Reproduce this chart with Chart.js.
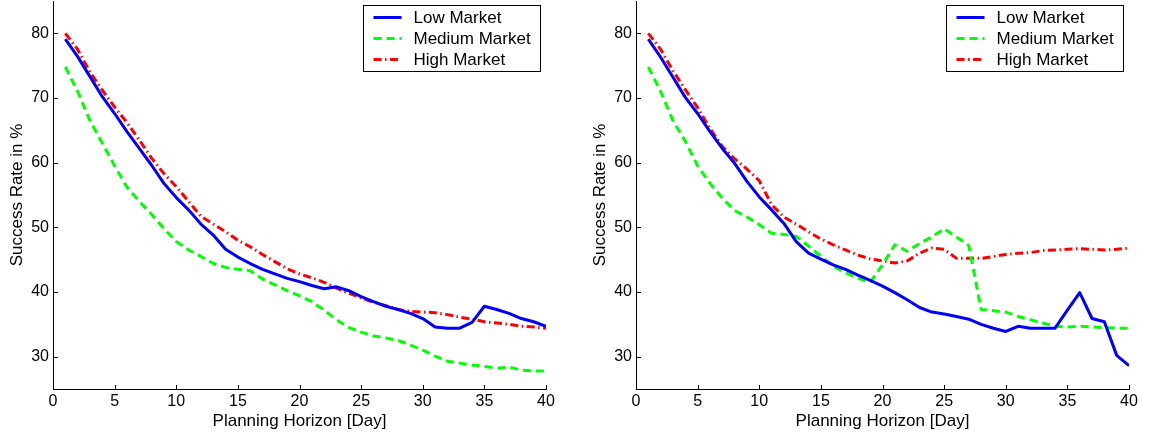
<!DOCTYPE html>
<html>
<head>
    <title>Success Rate vs Planning Horizon</title>
    <script src="https://cdn.jsdelivr.net/npm/chart.js@4.4.5/dist/chart.umd.min.js"></script>
    <style>
        body { margin: 0; background: #fff; }
        #wrap { position: relative; width: 1152px; height: 437px; }
        canvas { position: absolute; top: 0; }
    </style>
</head>
<body>
    <div id="wrap">
        <canvas id="leftChart" width="576" height="437" style="left:0"></canvas>
        <canvas id="rightChart" width="576" height="437" style="left:576px"></canvas>
    </div>

    <script>
        // Data
        const days = [1, 2, 3, 4, 5, 6, 7, 8, 9, 10, 11, 12, 13, 14, 15, 16, 17, 18, 19, 20,
                      21, 22, 23, 24, 25, 26, 27, 28, 29, 30, 31, 32, 33, 34, 35, 36, 37, 38, 39, 40];
        const xTicks = [0, 5, 10, 15, 20, 25, 30, 35, 40];
        const yTicks = [30, 40, 50, 60, 70, 80];
        const seriesNames = ['Low Market', 'Medium Market', 'High Market'];

        const leftLow = [79.1, 76.4, 73.3, 70.2, 67.6, 64.8, 62.2, 59.6, 56.8, 54.6, 52.7, 50.5, 48.8, 46.6, 45.4, 44.4, 43.5, 42.8, 42.1, 41.6,
                         41.0, 40.5, 40.8, 40.2, 39.3, 38.5, 37.8, 37.3, 36.7, 35.9, 34.6, 34.4, 34.4, 35.3, 37.8, 37.3, 36.7, 35.9, 35.4, 34.7];
        const leftMedium = [74.8, 71.0, 66.5, 63.0, 59.5, 56.2, 54.0, 52.0, 49.8, 47.8, 46.5, 45.5, 44.4, 43.8, 43.5, 43.3, 42.0, 41.1, 40.2, 39.4,
                            38.5, 37.2, 35.7, 34.5, 33.8, 33.2, 32.9, 32.5, 31.8, 31.0, 30.1, 29.3, 29.0, 28.7, 28.5, 28.2, 28.4, 27.9, 27.8, 27.8];
        const leftHigh = [80.0, 77.5, 74.0, 71.2, 68.6, 66.2, 63.5, 60.7, 58.3, 56.3, 54.0, 51.7, 50.5, 49.3, 48.0, 47.0, 45.8, 44.7, 43.6, 42.8,
                          42.2, 41.5, 40.6, 39.8, 39.1, 38.4, 37.9, 37.3, 37.0, 36.9, 36.8, 36.5, 36.1, 35.8, 35.4, 35.2, 35.0, 34.7, 34.6, 34.4];

        const rightLow = [79.1, 76.3, 73.2, 70.1, 67.6, 64.8, 62.2, 59.9, 57.1, 54.7, 52.7, 50.6, 47.8, 46.0, 45.1, 44.2, 43.5, 42.6, 41.8, 40.9,
                          39.9, 38.8, 37.6, 36.9, 36.6, 36.2, 35.8, 35.0, 34.4, 33.9, 34.7, 34.4, 34.4, 34.4, 37.2, 39.9, 35.9, 35.4, 30.2, 28.6];
        const rightMedium = [74.8, 71.0, 66.5, 63.3, 59.5, 56.8, 54.5, 52.6, 51.6, 50.4, 49.1, 48.9, 48.6, 47.1, 45.5, 44.0, 43.0, 42.1, 41.5, 44.2,
                             47.3, 46.3, 47.5, 48.5, 49.8, 48.5, 47.2, 37.3, 37.1, 36.9, 36.2, 35.7, 35.2, 34.7, 34.6, 34.7, 34.6, 34.5, 34.4, 34.4];
        const rightHigh = [80.0, 77.5, 74.2, 71.3, 68.5, 65.3, 62.5, 60.6, 59.0, 57.2, 53.5, 51.6, 50.5, 49.3, 48.2, 47.3, 46.5, 45.7, 45.1, 44.8,
                           44.5, 44.8, 46.0, 46.8, 46.6, 45.2, 45.2, 45.2, 45.5, 45.8, 46.0, 46.1, 46.4, 46.5, 46.6, 46.7, 46.6, 46.5, 46.6, 46.8];

        const FONT = 'Liberation Sans, Arial, Helvetica, sans-serif';

        // MATLAB style: ticks point into the plot, legend box in the top right corner
        const matlabAxes = {
            id: 'matlabAxes',
            afterDatasetsDraw(chart) {
                const { ctx, chartArea, scales } = chart;
                ctx.save();
                ctx.strokeStyle = '#000';
                ctx.lineWidth = 1;
                ctx.beginPath();
                xTicks.forEach(v => {
                    const px = Math.round(scales.x.getPixelForValue(v)) + 0.5;
                    ctx.moveTo(px, chartArea.bottom);
                    ctx.lineTo(px, chartArea.bottom - 4);
                });
                yTicks.forEach(v => {
                    const py = Math.round(scales.y.getPixelForValue(v)) + 0.5;
                    ctx.moveTo(chartArea.left, py);
                    ctx.lineTo(chartArea.left + 5, py);
                });
                ctx.stroke();
                ctx.restore();
            },
            afterDraw(chart) {
                const { ctx, chartArea } = chart;
                const sets = chart.data.datasets;
                ctx.save();
                ctx.font = '17px ' + FONT;
                const textW = Math.max(...sets.map(d => ctx.measureText(d.label).width));
                const w = Math.round(50 + textW + 10);
                const h = 66;
                const left = Math.round(chartArea.right - 6 - w) + 0.5;
                const top = 5.5;
                ctx.fillStyle = '#fff';
                ctx.fillRect(left, top, w, h);
                ctx.strokeStyle = '#000';
                ctx.lineWidth = 1;
                ctx.strokeRect(left, top, w, h);
                sets.forEach((d, i) => {
                    const cy = top + 12 + i * 21;
                    ctx.beginPath();
                    ctx.setLineDash(d.borderDash || []);
                    ctx.strokeStyle = d.borderColor;
                    ctx.lineWidth = d.borderWidth;
                    ctx.moveTo(left + 10, cy);
                    ctx.lineTo(left + 38, cy);
                    ctx.stroke();
                    ctx.setLineDash([]);
                    ctx.fillStyle = '#000';
                    ctx.textBaseline = 'middle';
                    ctx.fillText(d.label, left + 50, cy + 1);
                });
                ctx.restore();
            }
        };

        function makeDatasets(low, medium, high) {
            const pts = arr => days.map((d, i) => ({ x: d, y: arr[i] }));
            return [
                { label: seriesNames[0], data: pts(low), borderColor: '#0000ff', borderWidth: 3, borderDash: [] },
                { label: seriesNames[1], data: pts(medium), borderColor: '#00ff00', borderWidth: 3, borderDash: [8, 5] },
                { label: seriesNames[2], data: pts(high), borderColor: '#ff0000', borderWidth: 3, borderDash: [8, 3.5, 1.5, 3.5] }
            ];
        }

        function renderChart(id, datasets, padLeft, padRight) {
            new Chart(document.getElementById(id), {
                type: 'line',
                data: { datasets },
                options: {
                    responsive: false,
                    animation: false,
                    layout: { padding: { left: padLeft, right: padRight, top: 1, bottom: 0 } },
                    elements: {
                        point: { radius: 0 },
                        line: { tension: 0, borderCapStyle: 'butt', borderJoinStyle: 'round' }
                    },
                    plugins: {
                        legend: { display: false },
                        tooltip: { enabled: false }
                    },
                    scales: {
                        x: {
                            type: 'linear',
                            min: 0,
                            max: 40,
                            afterBuildTicks: s => { s.ticks = xTicks.map(v => ({ value: v })); },
                            afterFit: s => { s.height = 48; s.paddingLeft = 0; s.paddingRight = 0; },
                            grid: { display: false, drawTicks: false },
                            border: { display: true, color: '#000', width: 1 },
                            ticks: { color: '#000', padding: 3, maxRotation: 0, font: { family: FONT, size: 16 } },
                            title: {
                                display: true,
                                text: 'Planning Horizon [Day]',
                                color: '#000',
                                padding: { top: 0, bottom: 5 },
                                font: { family: FONT, size: 17 }
                            }
                        },
                        y: {
                            min: 25,
                            max: 85,
                            afterBuildTicks: s => { s.ticks = yTicks.map(v => ({ value: v })); },
                            afterFit: s => { s.width = 53; s.paddingTop = 0; s.paddingBottom = 0; },
                            grid: { display: false, drawTicks: false },
                            border: { display: true, color: '#000', width: 1 },
                            ticks: { color: '#000', padding: 4, font: { family: FONT, size: 16 } },
                            title: {
                                display: true,
                                text: 'Success Rate in %',
                                color: '#000',
                                padding: { top: 7, bottom: 0 },
                                font: { family: FONT, size: 17 }
                            }
                        }
                    }
                },
                plugins: [matlabAxes]
            });
        }

        renderChart('leftChart', makeDatasets(leftLow, leftMedium, leftHigh), 0, 30);
        renderChart('rightChart', makeDatasets(rightLow, rightMedium, rightHigh), 7, 23);
    </script>
</body>
</html>
